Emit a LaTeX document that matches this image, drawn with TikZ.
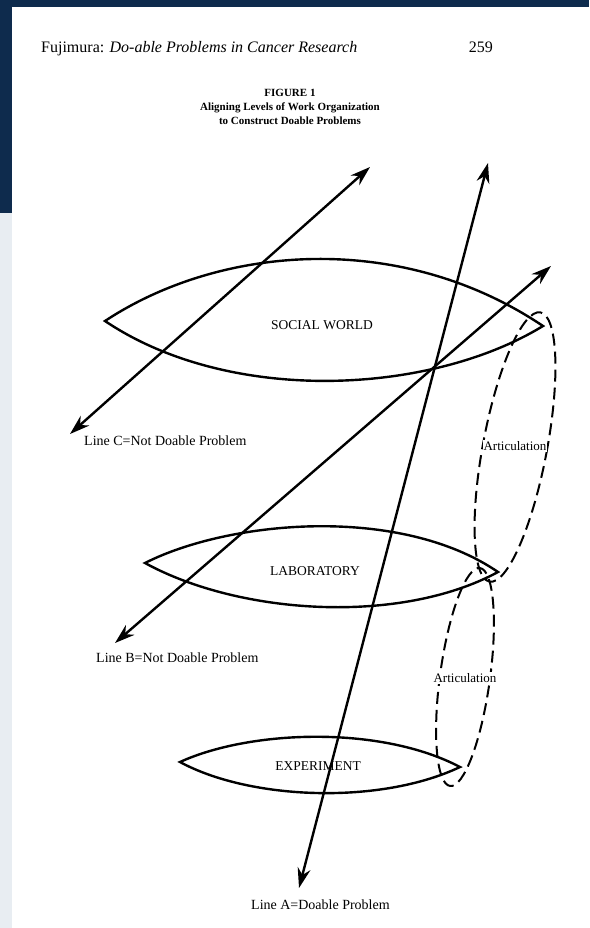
\documentclass[tikz,border=0pt]{standalone}
\usepackage{fontspec}
\setmainfont{Liberation Serif}
\usetikzlibrary{arrows.meta}
\definecolor{navy}{HTML}{0E2B4D}
\definecolor{paleg}{HTML}{E8EDF2}
\tikzset{
  every node/.append style={inner sep=1pt},
  hdr/.style={font=\fontsize{16}{18}\selectfont},
  ttl/.style={font=\fontsize{11}{14}\selectfont\bfseries, align=center},
  lens/.style={line width=2.4pt, line join=miter},
  lvl/.style={font=\fontsize{13.5}{15}\selectfont},
  prob/.style={{Stealth[length=20pt,width=13pt]}-{Stealth[length=20pt,width=13pt]},
               line width=2.4pt},
  linelbl/.style={font=\fontsize{14}{16}\selectfont, anchor=base west},
  artic/.style={dash pattern=on 12pt off 6pt, line width=2pt},
  artl/.style={font=\fontsize{13}{14}\selectfont, fill=white},
}

\begin{document}
\begin{tikzpicture}[x=1pt,y=-1pt]
  % --- slide background and page ---
  \fill[navy] (0,0) rectangle (589,928);
  \fill[paleg] (0,213) rectangle (12,928);
  \fill[white] (12,7) rectangle (589,928);
  \useasboundingbox (0,0) rectangle (589,928);
  % --- running head and caption ---
  \node[hdr, anchor=base west] (runhead) at (40,53)
    {Fujimura: \textit{Do-able Problems in Cancer Research}};
  \node[hdr, anchor=base east] (pagenum) at (494,53) {259};
  \node[ttl, anchor=north] (fig) at (290,88)
    {FIGURE 1\\Aligning Levels of Work Organization\\to Construct Doable Problems};
  % --- the three levels ---
  \coordinate (swL) at (105,321); \coordinate (swR) at (543,326);
  \coordinate (lbL) at (145,563); \coordinate (lbR) at (498,572);
  \coordinate (exL) at (180,762); \coordinate (exR) at (460,767);
  \draw[lens] (swL) .. controls (220,245) and (400,230) .. (swR)
              .. controls (430,395) and (230,405) .. (swL) -- cycle;
  \draw[lens] (lbL) .. controls (230,520) and (400,505) .. (lbR)
              .. controls (400,625) and (240,615) .. (lbL) -- cycle;
  \draw[lens] (exL) .. controls (250,730) and (380,725) .. (exR)
              .. controls (380,805) and (250,800) .. (exL) -- cycle;
  \node[lvl] (social) at (322,325) {SOCIAL WORLD};
  \node[lvl] (lab) at (315,571) {LABORATORY};
  \node[lvl] (expt) at (318,766) {EXPERIMENT};
  % --- articulation loops ---
  \draw[artic, rotate around={-10.7:(515,447)}] (515,447) ellipse [x radius=32pt, y radius=137pt];
  \draw[artic, rotate around={-7.8:(465,677)}] (465,677) ellipse [x radius=25pt, y radius=110pt];
  \node[artl] (art1) at (515,446) {Articulation};
  \node[artl] (art2) at (465,678) {Articulation};
  % --- problem lines ---
  \coordinate (cLo) at (70,434);  \coordinate (cHi) at (370,167);
  \coordinate (bLo) at (115,643); \coordinate (bHi) at (551,266);
  \coordinate (aLo) at (299,888); \coordinate (aHi) at (488,163);
  \draw[prob] (cLo) -- (cHi);
  \draw[prob] (bLo) -- (bHi);
  \draw[prob] (aLo) -- (aHi);
  \node[linelbl] (lineC) at (83,445) {Line C=Not Doable Problem};
  \node[linelbl] (lineB) at (95,662) {Line B=Not Doable Problem};
  \node[linelbl] (lineA) at (250,909) {Line A=Doable Problem};
\end{tikzpicture}
\end{document}
